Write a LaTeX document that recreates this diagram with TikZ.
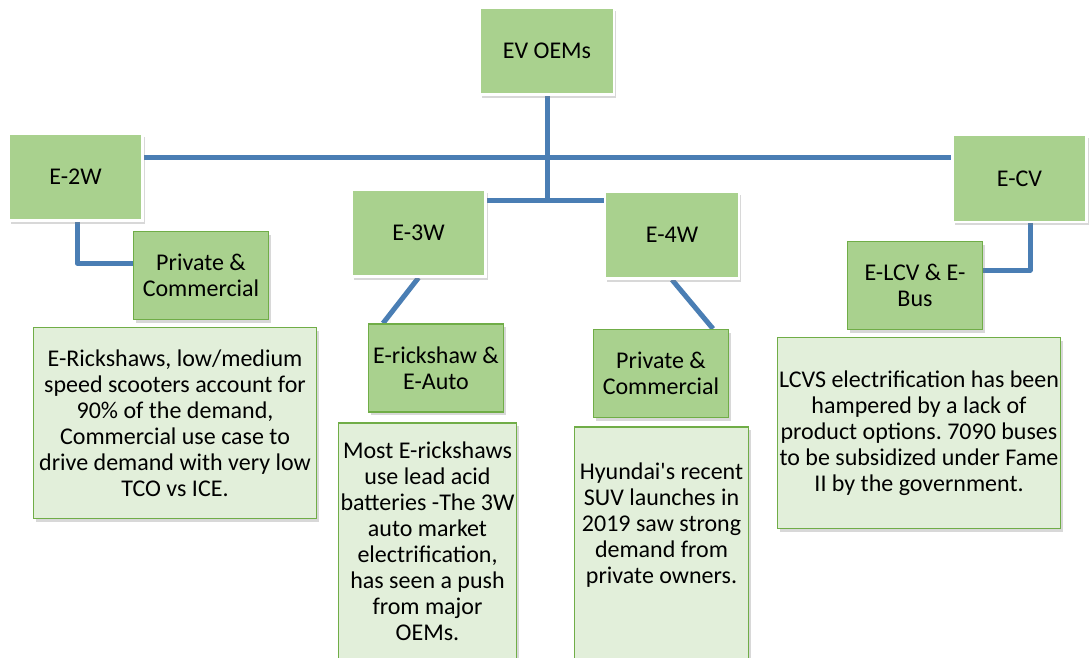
\documentclass[tikz,border=0pt]{standalone}
\usepackage{fontspec}
\setmainfont{Carlito}[Ligatures=TeXOff]
\frenchspacing
\usetikzlibrary{shadows}
\definecolor{boxgreen}{HTML}{A9D18E}
\definecolor{edgegreen}{HTML}{70AD47}
\definecolor{paleg}{HTML}{E2EFDA}
\definecolor{connblue}{HTML}{4A7EB4}
\pgfdeclarelayer{bg}
\pgfdeclarelayer{paper}
\pgfsetlayers{paper,bg,main}
\tikzset{
  x=1pt,y=-1pt,
  every node/.style={font=\fontsize{24}{26}\selectfont\frenchspacing, align=center, inner sep=0pt},
  topbox/.style={rectangle, fill=boxgreen, draw=white, line width=2.5pt,
    minimum width=134pt, minimum height=87pt,
    drop shadow={shadow xshift=2pt, shadow yshift=-3pt, opacity=0.3}},
  subbox/.style={rectangle, fill=boxgreen, draw=edgegreen, line width=1.5pt,
    minimum width=135pt, minimum height=88pt,
    drop shadow={shadow xshift=2pt, shadow yshift=-3pt, opacity=0.3}},
  textbox/.style={rectangle, fill=paleg, draw=edgegreen, line width=1.5pt,
    drop shadow={shadow xshift=2pt, shadow yshift=-3pt, opacity=0.3}},
  conn/.style={draw=connblue, line width=5pt}
}
\begin{document}
\begin{tikzpicture}
\useasboundingbox (0,0) rectangle (1091,657);
\clip (0,0) rectangle (1091,657);
\begin{pgfonlayer}{paper}
\fill[white] (0,0) rectangle (1091,657);
\end{pgfonlayer}

% top level
\node[topbox] (oem) at (547,51) {EV OEMs};
\node[topbox] (e2w) at (75.5,177) {E-2W};
\node[topbox] (e3w) at (418.5,233) {E-3W};
\node[topbox] (e4w) at (672,235) {E-4W};
\node[topbox] (ecv) at (1019.5,178.5) {E-CV};

% sub boxes
\node[subbox] (pc1) at (201,275.5) {Private \&\\Commercial};
\node[subbox] (erick) at (436,368) {E-rickshaw \&\\E-Auto};
\node[subbox] (pc2) at (661,373.5) {Private \&\\Commercial};
\node[subbox] (elcv) at (915,285.5) {E-LCV \& E-\\Bus};

% text boxes
\node[textbox, minimum width=283pt, minimum height=191pt] (t1) at (175,423)
  {E-Rickshaws, low/medium\\speed scooters account for\\90\% of the demand,\\Commercial use case to\\drive demand with very low\\TCO vs ICE.};
\node[textbox, minimum width=178pt, minimum height=236pt] (t3) at (427.5,541)
  {Most E-rickshaws\\use lead acid\\batteries -The 3W\\auto market\\electrification,\\has seen a push\\from major\\OEMs.};
\node[textbox, minimum width=174pt, minimum height=270pt] (t4) at (661.5,562) {};
\node (t4text) at (661.5,525)
  {Hyundai's recent\\SUV launches in\\2019 saw strong\\demand from\\private owners.};
\node[textbox, minimum width=283pt, minimum height=191pt] (t5) at (919,433)
  {LCVS electrification has been\\hampered by a lack of\\product options. 7090 buses\\to be subsidized under Fame\\II by the government.};

% junctions
\coordinate (j1) at (547,157);
\coordinate (j2) at (547,200);

\begin{pgfonlayer}{bg}
\draw[conn] (oem.south) -- (j2);
\draw[conn] (e2w.east |- j1) -- (ecv.west |- j1);
\draw[conn] (e3w.east |- j2) -- (e4w.west |- j2);
\draw[conn, line join=round] ([xshift=1.5pt]e2w.south) |- ([yshift=12.5pt]pc1.west);
\draw[conn, line join=round] ([xshift=10.5pt]ecv.south) |- ([yshift=15.5pt]elcv.east);
\draw[conn] (e3w.south) -- ([xshift=-53pt]erick.north);
\draw[conn] (e4w.south) -- ([xshift=52pt]pc2.north);
\end{pgfonlayer}
\end{tikzpicture}
\end{document}
